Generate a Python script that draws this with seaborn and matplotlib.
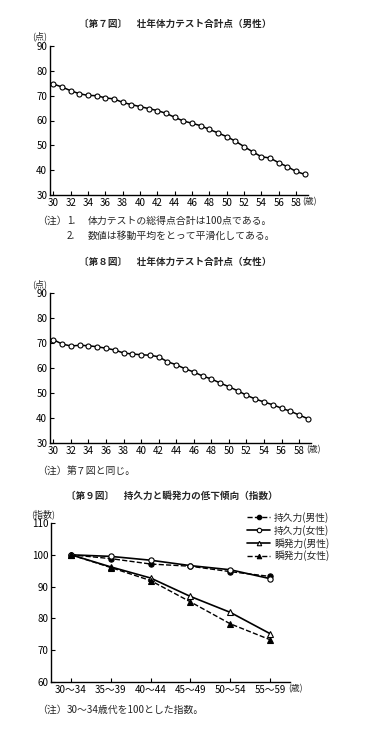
import matplotlib
matplotlib.use('Agg')
import matplotlib.pyplot as plt
import pandas as pd
import seaborn as sns

ages = list(range(30, 60))
male_total = [74.7, 73.5, 72.0, 70.8, 70.1, 70.0, 69.1, 68.7, 67.3, 66.4,
              65.6, 64.8, 64.0, 62.9, 61.3, 59.8, 58.9, 57.9, 56.4, 55.0,
              53.5, 51.7, 49.5, 47.4, 45.4, 44.9, 43.0, 41.4, 39.5, 38.3]
female_total = [71.3, 69.6, 68.8, 69.1, 68.9, 68.5, 67.9, 67.2, 66.0, 65.6,
                65.3, 65.1, 64.5, 62.5, 61.3, 59.7, 58.4, 56.8, 55.6, 54.0,
                52.5, 50.9, 49.1, 47.6, 46.4, 45.3, 43.9, 42.7, 41.2, 39.7]

age_groups = ['30～34', '35～39', '40～44', '45～49', '50～54', '55～59']
endurance_male = [100.0, 98.8, 97.1, 96.4, 94.7, 93.2]
endurance_female = [100.0, 99.5, 98.3, 96.6, 95.3, 92.5]
power_male = [100.0, 96.2, 92.7, 86.9, 81.9, 75.2]
power_female = [100.0, 96.0, 91.9, 85.2, 78.3, 73.3]

sns.set_style('ticks')
plt.rcParams['font.family'] = ['Noto Sans CJK JP', 'DejaVu Sans']

W, H = 366, 736
fig = plt.figure(figsize=(W / 100, H / 100), dpi=100)


def px_axes(left, right, top, bottom):
    return fig.add_axes([left / W, 1 - bottom / H, (right - left) / W, (bottom - top) / H])


def ftext(x, y, s, **kw):
    kw.setdefault('fontsize', 7.1)
    kw.setdefault('va', 'center')
    fig.text(x / W, 1 - y / H, s, **kw)


def style_axes(ax):
    sns.despine(ax=ax)
    for sp in ('left', 'bottom'):
        ax.spines[sp].set_linewidth(1.0)
        ax.spines[sp].set_color('black')
    ax.tick_params(direction='in', length=3, width=0.8, labelsize=7,
                   colors='black', pad=2)
    ax.set_xlabel('')
    ax.set_ylabel('')
    ax.set_facecolor('white')


def score_chart(ax, values):
    df = pd.DataFrame({'age': ages, 'score': values})
    sns.lineplot(data=df, x='age', y='score', ax=ax, color='black', lw=1.1,
                 marker='o', markersize=3.6, markerfacecolor='white',
                 markeredgecolor='black', markeredgewidth=0.8)
    ax.set_ylim(30, 90)
    ax.set_yticks(range(30, 91, 10))
    ax.set_xticks(range(30, 59, 2))
    style_axes(ax)


# 第7図
ax1 = px_axes(50, 308, 46, 195)
score_chart(ax1, male_total)
ax1.set_xlim(29.62, 59.38)
ftext(175, 24, '〔第７図〕　壮年体力テスト合計点（男性）', ha='center',
      fontweight='bold', fontsize=6.9)
ftext(40, 36, '(点)', ha='center', fontsize=6.5)
ftext(302, 202, '(歳)', ha='left', fontsize=6.3)
ftext(37, 221, '（注）', ha='left')
ftext(67, 221, '1.', ha='left')
ftext(88, 221, '体力テストの総得点合計は100点である。', ha='left')
ftext(67, 236, '2.', ha='left')
ftext(88, 236, '数値は移動平均をとって平滑化してある。', ha='left')

# 第8図
ax2 = px_axes(50, 311, 293, 443)
score_chart(ax2, female_total)
ax2.set_xlim(29.62, 59.35)
ftext(175, 262, '〔第８図〕　壮年体力テスト合計点（女性）', ha='center',
      fontweight='bold', fontsize=6.9)
ftext(40, 284, '(点)', ha='center', fontsize=6.5)
ftext(306, 450, '(歳)', ha='left', fontsize=6.3)
ftext(37, 471, '（注）', ha='left')
ftext(67, 471, '第７図と同じ。', ha='left')

# 第9図
ax3 = px_axes(51, 290, 523, 682)
pos = list(range(len(age_groups)))
series = [
    ('持久力(男性)', endurance_male, '--', 'o', 'black'),
    ('持久力(女性)', endurance_female, '-', 'o', 'white'),
    ('瞬発力(男性)', power_male, '-', '^', 'white'),
    ('瞬発力(女性)', power_female, '--', '^', 'black'),
]
for name, vals, ls, mk, fc in series:
    df = pd.DataFrame({'pos': pos, 'val': vals})
    sns.lineplot(data=df, x='pos', y='val', ax=ax3, color='black',
                 lw=1.2 if ls == '-' else 1.0, linestyle=ls, marker=mk,
                 markersize=3.8, markerfacecolor=fc, markeredgecolor='black',
                 markeredgewidth=0.8, label=name)
ax3.set_xlim(-0.5, 5.5)
ax3.set_ylim(60, 110)
ax3.set_yticks(range(60, 111, 10))
ax3.set_xticks(pos)
ax3.set_xticklabels(age_groups)
style_axes(ax3)
ax3.legend(loc='upper left', bbox_to_anchor=(242 / W, 1 - 507 / H),
           bbox_transform=fig.transFigure, frameon=False, fontsize=7,
           handlelength=2.4, handletextpad=0.4, labelspacing=0.2,
           borderpad=0, markerscale=0.85)
ftext(172, 496, '〔第９図〕　持久力と瞬発力の低下傾向（指数）', ha='center',
      fontweight='bold', fontsize=6.9)
ftext(43, 514, '(指数)', ha='center', fontsize=6.5)
ftext(288, 689, '(歳)', ha='left', fontsize=6.3)
ftext(37, 710, '（注）', ha='left')
ftext(67, 710, '30～34歳代を100とした指数。', ha='left')

fig.savefig('out.png', dpi=100, facecolor='white')
